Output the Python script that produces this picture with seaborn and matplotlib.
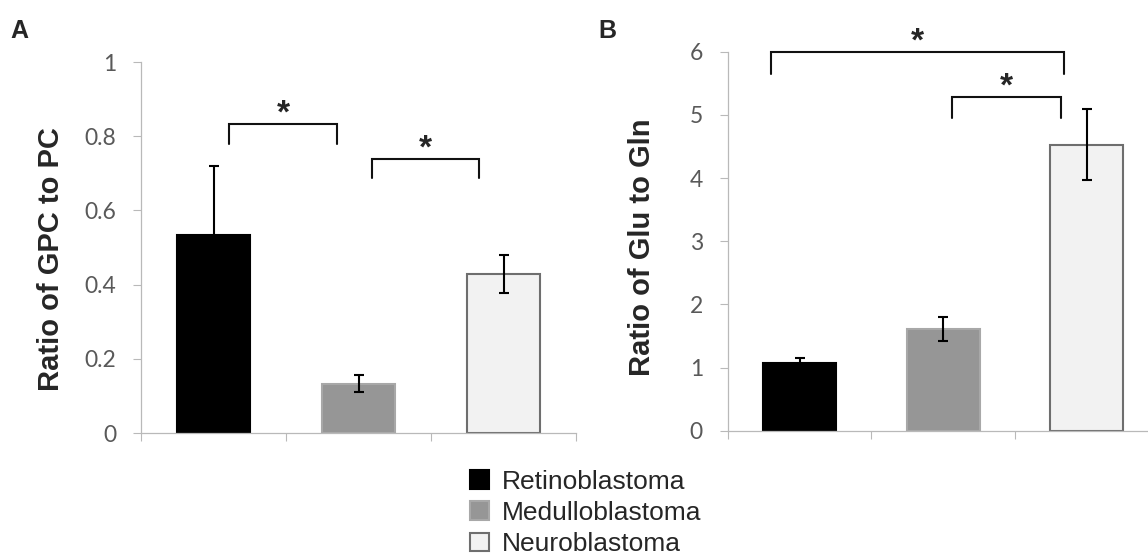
import matplotlib
matplotlib.use("Agg")
import matplotlib.pyplot as plt
from matplotlib.patches import Patch
import seaborn as sns
import pandas as pd

# data
tumours = ["Retinoblastoma", "Medulloblastoma", "Neuroblastoma"]
gpc_pc = [0.534, 0.133, 0.429]
gpc_pc_err = [0.186, 0.023, 0.052]
glu_gln = [1.076, 1.61, 4.53]
glu_gln_err = [0.08, 0.195, 0.565]

# significance brackets: (left, right, top, leg bottom)
gpc_pc_sig = [(0.11, 0.85, 0.833, 0.779), (1.09, 1.83, 0.739, 0.687)]
glu_gln_sig = [(-0.20, 1.84, 5.99, 5.65), (1.06, 1.82, 5.28, 4.95)]

fills = ["#000000", "#969696", "#F2F2F2"]
edges = ["#000000", "#A8A8A8", "#6E6E6E"]
axis_grey = "#B9B9B9"
label_grey = "#595959"

sns.set_style("white")
plt.rcParams['font.family'] = ['Liberation Sans', 'DejaVu Sans']

fig = plt.figure(figsize=(11.48, 5.55), dpi=100)
W, H = 1148, 555


def panel(rect, values, errs, sig, ylim, yticks, ticklabels, xmax):
    ax = fig.add_axes(rect)
    df = pd.DataFrame({"tumour": tumours, "value": values})
    sns.barplot(data=df, x="tumour", y="value", hue="tumour", palette=fills,
                width=0.51, errorbar=None, legend=False, ax=ax, linewidth=1.5)
    for patch, ec in zip(ax.patches, edges):
        patch.set_edgecolor(ec)
    ax.errorbar(range(len(values)), values, yerr=errs, fmt="none", ecolor="#000000",
                elinewidth=1.5, capsize=3.6, capthick=1.5, zorder=5)
    for x1, x2, top, bottom in sig:
        ax.plot([x1, x1, x2, x2], [bottom, top, top, bottom], color="#111111",
                lw=1.5, clip_on=False, solid_joinstyle="miter")
        ax.annotate("*", xy=((x1 + x2) / 2, top), xytext=(0, 1), textcoords="offset points",
                    ha="center", va="baseline", fontsize=24, fontweight="bold",
                    annotation_clip=False)
    ax.set_ylim(*ylim)
    ax.set_xlim(-0.5, xmax)
    ax.set_yticks(yticks)
    ax.set_yticklabels(ticklabels, fontfamily="Lato", fontsize=16.5, color=label_grey)
    ax.set_xticks([t for t in [-0.5, 0.5, 1.5, 2.5] if t <= xmax])
    ax.set_xticklabels([])
    ax.set_xlabel("")
    ax.tick_params(axis="both", direction="out", length=6, width=0.8, color=axis_grey,
                   left=True, bottom=True)
    ax.tick_params(axis="y", pad=12)
    for s in ["top", "right"]:
        ax.spines[s].set_visible(False)
    for s in ["left", "bottom"]:
        ax.spines[s].set_color(axis_grey)
        ax.spines[s].set_linewidth(0.9)
    return ax


# panel A
axA = panel([141 / W, 1 - 433 / H, 435 / W, 371 / H], gpc_pc, gpc_pc_err, gpc_pc_sig,
            (0, 1), [0, 0.2, 0.4, 0.6, 0.8, 1], ["0", "0.2", "0.4", "0.6", "0.8", "1"],
            2.5)
axA.set_ylabel("Ratio of GPC to PC", fontsize=21, fontweight="bold")
axA.yaxis.set_label_coords(65 / W, 1 - 259 / H, transform=fig.transFigure)

# panel B (cut at the right edge of the figure)
axB = panel([728 / W, 1 - 430.7 / H, 420 / W, 379 / H], glu_gln, glu_gln_err, glu_gln_sig,
            (0, 6), [0, 1, 2, 3, 4, 5, 6], ["0", "1", "2", "3", "4", "5", "6"],
            2.427)
axB.set_ylabel("Ratio of Glu to Gln", fontsize=21, fontweight="bold")
axB.yaxis.set_label_coords(656 / W, 1 - 247.5 / H, transform=fig.transFigure)

fig.text(10 / W, 1 - 38 / H, "A", fontsize=18, fontweight="bold", va="baseline")
fig.text(598 / W, 1 - 38 / H, "B", fontsize=18, fontweight="bold", va="baseline")

handles = [Patch(facecolor=f, edgecolor=e, linewidth=1.5) for f, e in zip(fills, edges)]
handles[0].set_edgecolor("#000000")
fig.legend(handles, tumours, loc="upper left", bbox_to_anchor=(470 / W, 1 - 470 / H),
           frameon=False, fontsize=19, handlelength=0.72, handleheight=0.72,
           handletextpad=0.5, labelspacing=0.27, borderpad=0, borderaxespad=0)

fig.savefig("out.png", dpi=100)
